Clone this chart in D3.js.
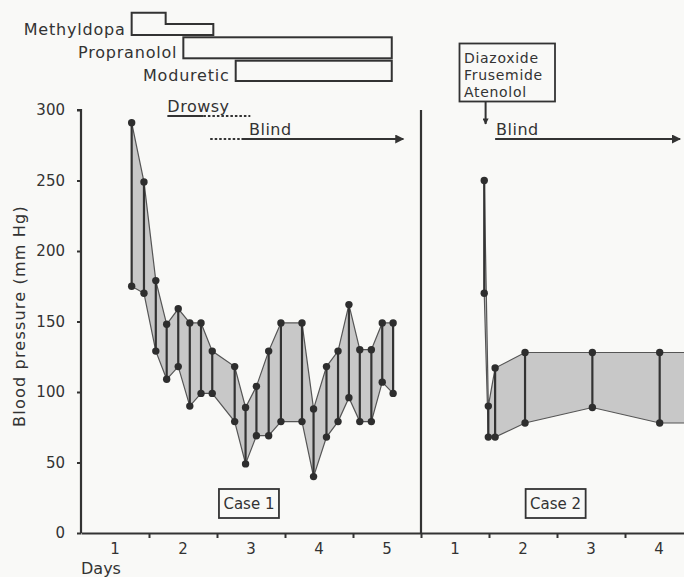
<!DOCTYPE html>
<html>
<head>
<meta charset="utf-8">
<script src="https://cdn.jsdelivr.net/npm/d3@7"></script>
<style>
  body { margin: 0; background: #f9f9f7; }
  svg { display: block; }
  text { font-family: "DejaVu Sans", sans-serif; fill: #333; }
</style>
</head>
<body>
<div id="chart"></div>
<script>
// case 1 readings (day from start, systolic, diastolic in mm Hg)
var case1Day = [0.745, 0.926, 1.10, 1.26, 1.43, 1.60, 1.765, 1.93, 2.26, 2.42, 2.58, 2.76, 2.94, 3.25, 3.42, 3.61, 3.78, 3.94, 4.10, 4.27, 4.43, 4.59];
var case1Sys = [291, 249, 179, 148, 159, 149, 149, 129, 118, 89, 104, 129, 149, 149, 88, 118, 129, 162, 130, 130, 149, 149];
var case1Dia = [175, 170, 129, 109, 118, 90, 99, 99, 79, 49, 69, 69, 79, 79, 40, 68, 79, 96, 79, 79, 107, 99];

// case 2 readings, days counted from the start of case 2 (last entry runs off the edge, no dot)
var case2Day = [0.93, 0.99, 1.09, 1.53, 2.52, 3.51, 4.2];
var case2Sys = [250, 90, 117, 128, 128, 128, 128];
var case2Dia = [170, 68, 68, 78, 89, 78, 78];

var yTicks = [0, 50, 100, 150, 200, 250, 300];
var case1DayLabels = ['1', '2', '3', '4', '5'];
var case2DayLabels = ['1', '2', '3', '4'];

// drug regimens for case 1 (days)
var drugNames = ['Methyldopa', 'Propranolol', 'Moduretic'];
var drugStart = [0.745, 1.505, 2.275];
var drugEnd = [1.946, 4.57, 4.57];
var methyldopaStep = 1.245;

// symptoms (days): solid part then doubtful (dotted) part
var drowsySolid = [1.27, 1.80], drowsyDotted = [1.80, 2.49];
var blindDotted = [1.90, 2.36], blindSolid = [2.36, 4.74];
var case2Drugs = ['Diazoxide', 'Frusemide', 'Atenolol'];
var case2DrugDay = 0.95;
var case2Blind = [1.09, 3.81];

var W = 684, H = 577;
var case2Origin = 5;

var x = d3.scaleLinear().domain([0, 9]).range([81, 693]);
var y = d3.scaleLinear().domain([0, 300]).range([533, 110]);

var svg = d3.select('#chart').append('svg')
  .attr('width', W)
  .attr('height', H);

svg.append('rect').attr('width', W).attr('height', H).attr('fill', '#f9f9f7');

var defs = svg.append('defs');
defs.append('marker')
  .attr('id', 'arrow')
  .attr('viewBox', '0 0 10 10')
  .attr('refX', 9).attr('refY', 5)
  .attr('markerWidth', 7).attr('markerHeight', 6)
  .attr('markerUnits', 'userSpaceOnUse')
  .attr('orient', 'auto')
  .append('path').attr('d', 'M0,0L10,5L0,10Z').attr('fill', '#333');
defs.append('marker')
  .attr('id', 'arrowBig')
  .attr('viewBox', '0 0 10 10')
  .attr('refX', 9).attr('refY', 5)
  .attr('markerWidth', 14).attr('markerHeight', 9)
  .attr('markerUnits', 'userSpaceOnUse')
  .attr('orient', 'auto')
  .append('path').attr('d', 'M0,0L10,5L0,10Z').attr('fill', '#333');

// axes
var yAxis = d3.axisLeft(y).tickValues(yTicks).tickSize(4).tickSizeOuter(0).tickPadding(12);
var gy = svg.append('g').attr('transform', 'translate(' + x(0) + ',0)').call(yAxis);
gy.selectAll('text').style('font-size', '15px').attr('fill', '#333');

var xAxis = d3.axisBottom(x).tickValues([1, 2, 3, 4, 5, 6, 7, 8]).tickSize(5).tickSizeOuter(0).tickFormat('');
var gx = svg.append('g').attr('transform', 'translate(0,' + y(0) + ')').call(xAxis);
[gy, gx].forEach(function(g) {
  g.select('.domain').attr('stroke', '#333').attr('stroke-width', 2.2);
  g.selectAll('.tick line').attr('stroke', '#333').attr('stroke-width', 2);
});
gy.select('.domain').attr('d', 'M-4,' + y(300) + 'H0V' + y(0));

// divider between the cases
svg.append('line')
  .attr('x1', x(case2Origin)).attr('x2', x(case2Origin))
  .attr('y1', y(300)).attr('y2', y(0))
  .attr('stroke', '#333').attr('stroke-width', 2.2);

svg.selectAll('.daylab1').data(case1DayLabels).enter().append('text')
  .attr('x', function(d, i) { return x(i + 0.5); })
  .attr('y', 554)
  .attr('text-anchor', 'middle')
  .style('font-size', '15px')
  .text(function(d) { return d; });
svg.selectAll('.daylab2').data(case2DayLabels).enter().append('text')
  .attr('x', function(d, i) { return x(case2Origin + i + 0.5); })
  .attr('y', 554)
  .attr('text-anchor', 'middle')
  .style('font-size', '15px')
  .text(function(d) { return d; });

svg.append('text').attr('x', 81).attr('y', 574).style('font-size', '16px').text('Days');

svg.append('text')
  .attr('transform', 'translate(25,316) rotate(-90)')
  .attr('text-anchor', 'middle')
  .style('font-size', '16px')
  .style('letter-spacing', '1.2px')
  .text('Blood pressure (mm Hg)');

// bands
function drawCase(days, sys, dia, offset, nDots) {
  var pts = days.map(function(d, i) { return { t: d + offset, s: sys[i], d: dia[i] }; });
  var area = d3.area()
    .x(function(p) { return x(p.t); })
    .y0(function(p) { return y(p.d); })
    .y1(function(p) { return y(p.s); });
  svg.append('path').datum(pts).attr('d', area)
    .attr('fill', '#c8c8c8');
  var top = d3.line().x(function(p) { return x(p.t); }).y(function(p) { return y(p.s); });
  var bot = d3.line().x(function(p) { return x(p.t); }).y(function(p) { return y(p.d); });
  svg.append('path').datum(pts).attr('d', top).attr('fill', 'none').attr('stroke', '#555').attr('stroke-width', 1.2);
  svg.append('path').datum(pts).attr('d', bot).attr('fill', 'none').attr('stroke', '#555').attr('stroke-width', 1.2);
  var marked = pts.slice(0, nDots);
  svg.selectAll(null).data(marked).enter().append('line')
    .attr('x1', function(p) { return x(p.t); })
    .attr('x2', function(p) { return x(p.t); })
    .attr('y1', function(p) { return y(p.s); })
    .attr('y2', function(p) { return y(p.d); })
    .attr('stroke', '#333').attr('stroke-width', 2.2);
  marked.forEach(function(p) {
    [p.s, p.d].forEach(function(v) {
      svg.append('circle').attr('cx', x(p.t)).attr('cy', y(v)).attr('r', 3.7).attr('fill', '#2e2e2e');
    });
  });
}
drawCase(case1Day, case1Sys, case1Dia, 0, case1Day.length);
drawCase(case2Day, case2Sys, case2Dia, case2Origin, case2Day.length - 1);

// drug regimens
var rowTop = [12.7, 37.3, 60.7], rowBottom = [35, 58.3, 81];
var gd = svg.append('g').attr('fill', 'none').attr('stroke', '#333').attr('stroke-width', 2);
gd.append('path').attr('d',
  'M' + x(drugStart[0]) + ',' + rowBottom[0] + 'V' + rowTop[0] + 'H' + x(methyldopaStep) +
  'V24H' + x(drugEnd[0]) + 'V' + rowBottom[0] + 'Z');
[1, 2].forEach(function(i) {
  gd.append('rect')
    .attr('x', x(drugStart[i])).attr('y', rowTop[i])
    .attr('width', x(drugEnd[i]) - x(drugStart[i]))
    .attr('height', rowBottom[i] - rowTop[i]);
});
svg.selectAll('.druglab').data(drugNames).enter().append('text')
  .attr('x', function(d, i) { return x(drugStart[i]) - 6; })
  .attr('y', function(d, i) { return rowBottom[i]; })
  .attr('text-anchor', 'end')
  .style('font-size', '16px')
  .style('letter-spacing', '0.8px')
  .text(function(d) { return d; });

// symptoms
function seg(a, yy, dashed, marker) {
  var l = svg.append('line')
    .attr('x1', x(a[0])).attr('x2', x(a[1]))
    .attr('y1', yy).attr('y2', yy)
    .attr('stroke', '#333').attr('stroke-width', 2);
  if (dashed) l.attr('stroke-dasharray', '2.5,2');
  if (marker) l.attr('marker-end', 'url(#' + marker + ')');
}
seg(drowsySolid, 116, false);
seg(drowsyDotted, 116, true);
svg.append('text').attr('x', x(drowsySolid[0])).attr('y', 112).style('font-size', '16px').style('letter-spacing', '0.5px').text('Drowsy');
seg(blindDotted, 139, true);
seg(blindSolid, 139, false, 'arrowBig');
svg.append('text').attr('x', 249).attr('y', 135).style('font-size', '16px').style('letter-spacing', '0.5px').text('Blind');

seg([case2Blind[0] + case2Origin, case2Blind[1] + case2Origin], 139, false, 'arrowBig');
svg.append('text').attr('x', x(case2Blind[0] + case2Origin) + 1).attr('y', 135).style('font-size', '16px').style('letter-spacing', '0.5px').text('Blind');

svg.append('rect')
  .attr('x', 459.5).attr('y', 43.5).attr('width', 95.5).attr('height', 58)
  .attr('fill', 'none').attr('stroke', '#333').attr('stroke-width', 1.8);
svg.selectAll('.c2drug').data(case2Drugs).enter().append('text')
  .attr('x', 464)
  .attr('y', function(d, i) { return 63 + i * 16.8; })
  .style('font-size', '14px')
  .style('letter-spacing', '0.7px')
  .text(function(d) { return d; });
svg.append('line')
  .attr('x1', x(case2DrugDay + case2Origin)).attr('x2', x(case2DrugDay + case2Origin))
  .attr('y1', 102).attr('y2', 124)
  .attr('stroke', '#333').attr('stroke-width', 2)
  .attr('marker-end', 'url(#arrow)');

// case labels
[['Case 1', 2.47], ['Case 2', 6.98]].forEach(function(c) {
  var cx = x(c[1]);
  svg.append('rect').attr('x', cx - 30).attr('y', 489).attr('width', 60).attr('height', 29)
    .attr('fill', 'none').attr('stroke', '#333').attr('stroke-width', 1.8);
  svg.append('text').attr('x', cx).attr('y', 509).attr('text-anchor', 'middle')
    .style('font-size', '15px').text(c[0]);
});
</script>
</body>
</html>
